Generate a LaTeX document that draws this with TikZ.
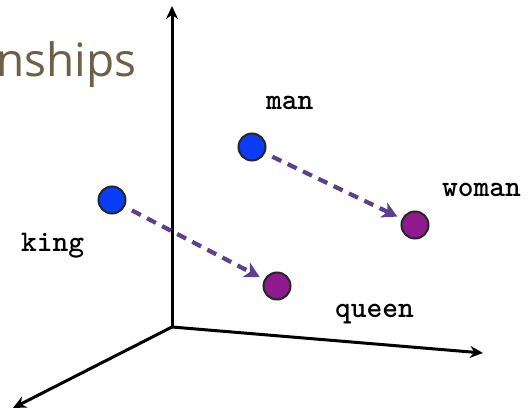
\documentclass[tikz,border=0pt]{standalone}
\usepackage{fontspec}
\setmainfont{Open Sans}
\newfontfamily\labelfont{lmmonolt10-bold.otf}
\usetikzlibrary{arrows.meta}
\definecolor{titlec}{HTML}{6E6048}
\definecolor{bluedot}{HTML}{0A3CFA}
\definecolor{purpledot}{HTML}{8E1A8E}
\definecolor{arrowc}{HTML}{5E3F8E}
\tikzset{
  axis/.style={line width=3pt, -{Stealth[length=13pt,width=12pt]}},
  dotblue/.style={circle, draw=black!85, line width=2pt, fill=bluedot, minimum size=27pt, inner sep=0pt},
  dotpurple/.style={circle, draw=black!85, line width=2pt, fill=purpledot, minimum size=27pt, inner sep=0pt},
  rel/.style={draw=arrowc, line width=4.2pt, dash pattern=on 10pt off 7pt, -{Stealth[length=15pt,width=16pt,inset=4pt]}},
  word/.style={anchor=base west, inner sep=0pt, font=\labelfont\fontsize{30}{30}\selectfont},
}
\begin{document}
\begin{tikzpicture}[x=1pt,y=-1pt]
\useasboundingbox[fill=white] (0,0) rectangle (528,411);
\node[anchor=base west, inner sep=0pt, text=titlec, font=\fontsize{46}{46}\selectfont] (title) at (-4,77) {nships};
\coordinate (o) at (172,327);
\coordinate (ytip) at (172,6);
\coordinate (xtip) at (483,353);
\coordinate (ztip) at (13,408);
\draw[axis] (o) -- (ytip);
\draw[axis] (o) -- (xtip);
\draw[axis] (o) -- (ztip);
\node[dotblue] (king) at (112,200) {};
\node[dotblue] (man) at (252,147) {};
\node[dotpurple] (woman) at (415,225) {};
\node[dotpurple] (queen) at (277,286) {};
\draw[rel, shorten <=8pt, shorten >=5pt] (king) -- (queen);
\draw[rel, shorten <=8pt, shorten >=5pt] (man) -- (woman);
\node[word] (lking) at (21,252) {king};
\node[word] (lman) at (266,110) {man};
\node[word] (lwoman) at (442,197) {woman};
\node[word] (lqueen) at (335,318) {queen};
\end{tikzpicture}
\end{document}
